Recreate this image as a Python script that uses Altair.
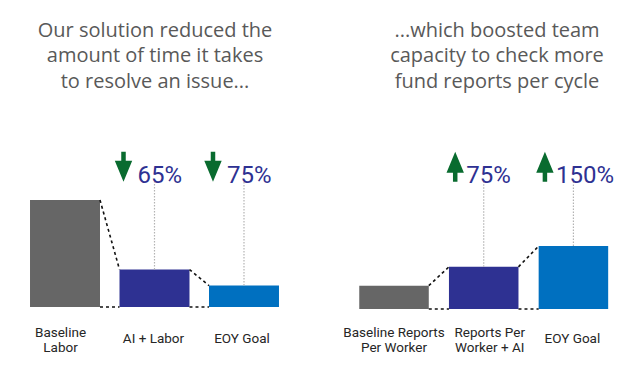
import altair as alt
import pandas as pd

# ---- data ----
left_title = "Our solution reduced the\namount of time it takes\nto resolve an issue..."
right_title = "...which boosted team\ncapacity to check more\nfund reports per cycle"

left_cats = ["Baseline\nLabor", "AI + Labor", "EOY Goal"]
left_vals = [100, 35, 20]
left_change = [None, "65%", "75%"]

right_cats = ["Baseline Reports\nPer Worker", "Reports Per\nWorker + AI", "EOY Goal"]
right_vals = [100, 181, 270]
right_change = [None, "75%", "150%"]

bar_colors = ["#666666", "#2e3192", "#0070c0"]

# ---- styles ----
GREEN = "#096b2f"
NAVY = "#2e3192"
TITLE_GRAY = "#595959"
LABEL_COLOR = "#262626"
H = 350

DOWN = "M-0.15,-1 L0.15,-1 L0.15,-0.4 L0.58,-0.4 L0,1 L-0.58,-0.4 L-0.15,-0.4 Z"
UP = "M-0.15,1 L0.15,1 L0.15,0.4 L0.58,0.4 L0,-1 L-0.58,0.4 L-0.15,0.4 Z"


def panel(cats, vals, changes, title, width, base_px, k, pin, pout, align,
          arrow, arrow_dx, text_dx, dy_single, dy_multi, label_nudge, title_x):
    ydom = [-(H - base_px) / k, base_px / k]
    xs = alt.Scale(domain=cats, paddingInner=pin, paddingOuter=pout, align=align)
    ysc = alt.Scale(domain=ydom, nice=False, zero=False)
    df = pd.DataFrame({"cat": cats, "value": vals, "change": changes, "color": bar_colors})
    base = alt.Chart(df)
    X = alt.X("cat:N", scale=xs, axis=None)
    Y = alt.Y("value:Q", scale=ysc, axis=None)

    bars = base.mark_bar().encode(x=X, y=Y, color=alt.Color("color:N", scale=None))

    conn_rows = []
    for i in range(len(cats) - 1):
        conn_rows.append({"c1": cats[i], "c2": cats[i + 1], "v1": vals[i], "v2": vals[i + 1]})
        conn_rows.append({"c1": cats[i], "c2": cats[i + 1], "v1": 0, "v2": 0})
    conn = alt.Chart(pd.DataFrame(conn_rows)).mark_rule(
        color="#111111", strokeDash=[3, 3], strokeWidth=1.6
    ).encode(
        x=alt.X("c1:N", scale=xs, axis=None, bandPosition=1),
        x2=alt.X2("c2:N", bandPosition=0),
        y=alt.Y("v1:Q", scale=ysc, axis=None),
        y2="v2:Q",
    )

    ann = base.transform_filter("datum.change != null")
    dots = ann.mark_rule(color="#b3b3b3", strokeDash=[1.5, 1.5], strokeWidth=1.2).encode(
        x=X, y=Y, y2=alt.value(174)
    )
    arrows = ann.mark_point(shape=arrow, filled=True, size=900, color=GREEN,
                            opacity=1, strokeWidth=0, xOffset=arrow_dx).encode(
        x=X, y=alt.value(158.7)
    )
    pct = ann.mark_text(align="left", baseline="alphabetic", dx=text_dx, fontSize=24,
                        font="Roboto", color=NAVY).encode(
        x=X, y=alt.value(175), text="change:N"
    )
    LY = alt.Y(datum=0, scale=ysc, axis=None)
    label_layers = []
    for i, c in enumerate(cats):
        multi = "\n" in c
        label_layers.append(
            base.transform_filter(alt.datum.cat == c).mark_text(
                baseline="middle", lineBreak="\n", lineHeight=14.7,
                fontSize=13.5, font="Roboto", color=LABEL_COLOR,
                dy=dy_multi if multi else dy_single, dx=label_nudge[i],
            ).encode(x=X, y=LY, text="cat:N")
        )
    ttl = alt.Chart(pd.DataFrame({"t": [title]})).mark_text(
        lineBreak="\n", lineHeight=25.8, baseline="alphabetic", align="center",
        fontSize=20, font="Open Sans", color=TITLE_GRAY
    ).encode(x=alt.value(title_x), y=alt.value(28.7), text="t:N")

    return alt.layer(bars, conn, dots, arrows, pct, *label_layers, ttl).properties(
        width=width, height=H)


left = panel(left_cats, left_vals, left_change, left_title, 293, 299, 1.07,
             0.218, 0.246, 0.5, DOWN, -31, -17, 31.5, 26.3, [-4.5, -1, -2], 147)
right = panel(right_cats, right_vals, right_change, right_title, 304, 301, 0.233,
              0.225, 0.307, 0.858, UP, -28.5, -17.5, 29.5, 24.2, [0, 6, -1], 185)

chart = alt.hconcat(left, right, spacing=11).properties(padding=0).configure_view(stroke=None)
chart.save("out.html", embed_options={"renderer": "svg", "actions": False})
